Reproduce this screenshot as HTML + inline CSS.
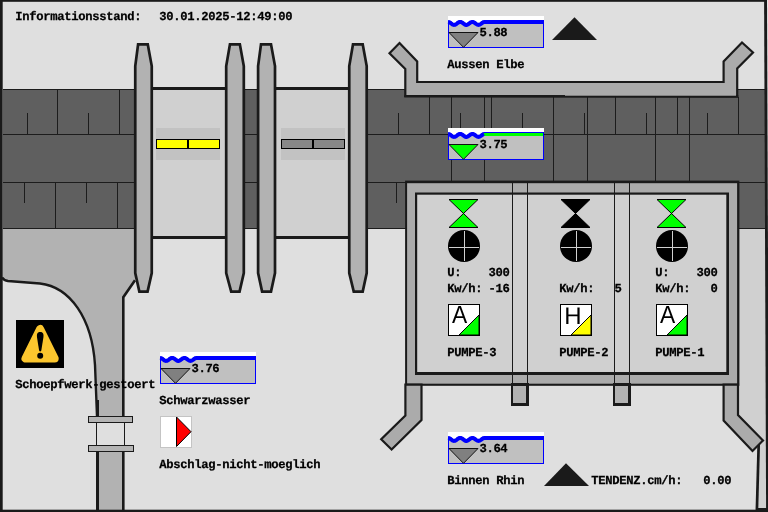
<!DOCTYPE html>
<html>
<head>
<meta charset="utf-8">
<title>Schoepfwerk</title>
<style>
html,body{margin:0;padding:0;background:#dfdfdf;}
body{width:768px;height:512px;overflow:hidden;position:relative;font-family:"Liberation Mono",monospace;}
svg{display:block;position:absolute;left:0;top:0;will-change:transform;}
text{stroke:#000;stroke-width:0.25px;font-family:"Liberation Mono",monospace;font-weight:bold;font-size:12.2px;letter-spacing:-0.32px;fill:#000;white-space:pre;text-rendering:geometricPrecision;}
text.s{stroke:none;font-family:"Liberation Sans",sans-serif;font-weight:normal;font-size:24px;}
</style>
</head>
<body>
<svg width="768" height="512" viewBox="0 0 768 512">

<rect x="0" y="0" width="768" height="512" fill="#dfdfdf"/>
<polygon points="738,228 766,228 766,511 757,511 759,446 738,420" fill="#d0d0d0"/>
<path d="M758.7,444 L756.9,510" stroke="#1a1a1a" stroke-width="2.7" fill="none"/>
<path d="M3,228 L135,228 L135,281 L123.5,297.2 L123.5,510 L97.5,510 L97,416 L95,365 C92,318 70,287 40,283.5 L8,281 Q4,280.5 3,278 Z" fill="#b2b2b2"/>
<path d="M2,277.5 Q4,280.5 8,281 L40,283.5 C70,287 92,318 95,365 L97,416" stroke="#1a1a1a" stroke-width="2.4" fill="none"/>
<path d="M97.5,400 L97.5,510" stroke="#1a1a1a" stroke-width="3" fill="none"/>
<path d="M135,280.2 L123.3,297.2 L123.3,510" stroke="#1a1a1a" stroke-width="2.6" fill="none"/>
<g shape-rendering="crispEdges">
<rect x="96" y="422" width="29" height="24" fill="#dfdfdf"/>
<rect x="96" y="422" width="1" height="24" fill="#1a1a1a"/>
<rect x="124" y="422" width="1" height="24" fill="#1a1a1a"/>
<rect x="88.5" y="416.5" width="44" height="6" fill="#b4b4b4" stroke="#1a1a1a" stroke-width="1"/>
<rect x="88.5" y="445.5" width="45" height="6" fill="#b4b4b4" stroke="#1a1a1a" stroke-width="1"/>
</g>
<g shape-rendering="crispEdges">
<rect x="3" y="89" width="763" height="139.5" fill="#5f5f5f"/>
<rect x="3" y="88.5" width="763" height="1" fill="#1c1c1c"/>
<rect x="3" y="134" width="763" height="1" fill="#1c1c1c"/>
<rect x="3" y="181.5" width="763" height="1" fill="#1c1c1c"/>
<rect x="3" y="228" width="763" height="1" fill="#1c1c1c"/>
<rect x="57" y="89" width="1" height="45" fill="#1c1c1c"/>
<rect x="119" y="89" width="1" height="45" fill="#1c1c1c"/>
<rect x="27" y="113" width="1" height="21" fill="#1c1c1c"/>
<rect x="88" y="113" width="1" height="21" fill="#1c1c1c"/>
<rect x="55" y="182" width="1" height="46" fill="#1c1c1c"/>
<rect x="117" y="182" width="1" height="46" fill="#1c1c1c"/>
<rect x="24" y="182" width="1" height="21" fill="#1c1c1c"/>
<rect x="86" y="182" width="1" height="21" fill="#1c1c1c"/>
<rect x="429" y="97" width="1" height="37" fill="#1c1c1c"/>
<rect x="451" y="97" width="1" height="37" fill="#1c1c1c"/>
<rect x="484" y="97" width="1" height="37" fill="#1c1c1c"/>
<rect x="491" y="97" width="1" height="37" fill="#1c1c1c"/>
<rect x="553" y="97" width="1" height="37" fill="#1c1c1c"/>
<rect x="587" y="97" width="1" height="37" fill="#1c1c1c"/>
<rect x="615" y="97" width="1" height="37" fill="#1c1c1c"/>
<rect x="655" y="97" width="1" height="37" fill="#1c1c1c"/>
<rect x="677" y="97" width="1" height="37" fill="#1c1c1c"/>
<rect x="689" y="97" width="1" height="37" fill="#1c1c1c"/>
<rect x="738" y="97" width="1" height="37" fill="#1c1c1c"/>
<rect x="398" y="113" width="1" height="21" fill="#1c1c1c"/>
<rect x="460" y="113" width="1" height="21" fill="#1c1c1c"/>
<rect x="522" y="113" width="1" height="21" fill="#1c1c1c"/>
<rect x="584" y="113" width="1" height="21" fill="#1c1c1c"/>
<rect x="646" y="113" width="1" height="21" fill="#1c1c1c"/>
<rect x="707" y="113" width="1" height="21" fill="#1c1c1c"/>
<rect x="451" y="134" width="1" height="48" fill="#1c1c1c"/>
<rect x="484" y="134" width="1" height="48" fill="#1c1c1c"/>
<rect x="553" y="134" width="1" height="48" fill="#1c1c1c"/>
<rect x="587" y="134" width="1" height="48" fill="#1c1c1c"/>
<rect x="655" y="134" width="1" height="48" fill="#1c1c1c"/>
<rect x="689" y="134" width="1" height="48" fill="#1c1c1c"/>
<rect x="396" y="182" width="1" height="21" fill="#1c1c1c"/>
</g>
<rect x="152" y="88.3" width="74" height="149" fill="#d0d0d0" stroke="#1a1a1a" stroke-width="2.6" shape-rendering="crispEdges"/>
<rect x="275" y="88.3" width="74" height="149" fill="#d0d0d0" stroke="#1a1a1a" stroke-width="2.6" shape-rendering="crispEdges"/>
<g shape-rendering="crispEdges">
<rect x="156" y="128" width="64" height="32" fill="#c2c2c2"/>
<rect x="156.5" y="139.5" width="63" height="9" fill="#ffff00" stroke="#000" stroke-width="1"/>
<rect x="187" y="139" width="2" height="10" fill="#000"/>
</g>
<g shape-rendering="crispEdges">
<rect x="281" y="128" width="64" height="32" fill="#c2c2c2"/>
<rect x="281.5" y="139.5" width="63" height="9" fill="#888888" stroke="#000" stroke-width="1"/>
<rect x="312" y="139" width="2" height="10" fill="#000"/>
</g>
<polygon points="138.1,44.3 147.75,44.3 151.75,66 151.75,273 147.55,291.6 139.35,291.6 135.25,273 135.25,66" fill="#b2b2b2" stroke="#1a1a1a" stroke-width="2.7" stroke-linejoin="miter"/>
<polygon points="229.95,44.3 239.85,44.3 243.8,66 243.8,273 239.55,291.6 231.2,291.6 226.2,273 226.2,66" fill="#b2b2b2" stroke="#1a1a1a" stroke-width="2.7" stroke-linejoin="miter"/>
<polygon points="261,44.3 271,44.3 275,66 275,273 271,291.6 262.1,291.6 258.1,273 258.1,66" fill="#b2b2b2" stroke="#1a1a1a" stroke-width="2.7" stroke-linejoin="miter"/>
<polygon points="353,44.3 362.7,44.3 366.7,66 366.7,273 362.7,291.6 353.75,291.6 349.25,273 349.25,66" fill="#b2b2b2" stroke="#1a1a1a" stroke-width="2.7" stroke-linejoin="miter"/>
<polygon points="399.5,43 417.2,61.5 417.2,82 723.6,82 723.6,61.5 742,42.5 753,52.5 737.2,68.5 737.2,96.6 405.3,96 405.3,69 389.5,53.2" fill="#ababab" stroke="#1a1a1a" stroke-width="2.2" stroke-linejoin="miter"/>
<path d="M404.2,96.4 L738.3,96.4" stroke="#1a1a1a" stroke-width="2.2"/>
<rect x="565" y="94.5" width="171" height="1.2" fill="#ababab"/>
<g shape-rendering="crispEdges">
</g><g>
<rect x="405.1" y="180.6" width="334.3" height="205.2" fill="#1a1a1a"/>
<rect x="407.1" y="183.2" width="330" height="200.5" fill="#ababab"/>
<rect x="415" y="192.5" width="314" height="182.5" fill="#1a1a1a"/>
<rect x="417.2" y="194.7" width="309.1" height="177.3" fill="#d0d0d0"/>
</g><g shape-rendering="crispEdges">
<rect x="512" y="183" width="1" height="201" fill="#1a1a1a"/>
<rect x="527" y="183" width="1" height="201" fill="#1a1a1a"/>
<rect x="614" y="183" width="1" height="201" fill="#1a1a1a"/>
<rect x="629" y="183" width="1" height="201" fill="#1a1a1a"/>
<rect x="512" y="384.5" width="15.5" height="20" fill="#b2b2b2" stroke="#1a1a1a" stroke-width="2.4"/>
<rect x="614" y="384.5" width="15.5" height="20" fill="#b2b2b2" stroke="#1a1a1a" stroke-width="2.4"/>
</g>
<polygon points="405.4,384.7 421.5,384.7 421.5,420 391.6,449.5 381.2,439.3 405.4,415.6" fill="#ababab" stroke="#1a1a1a" stroke-width="2.2" stroke-linejoin="miter"/>
<polygon points="723.6,384.7 738,384.7 738,415 763,440.5 752.5,451 723.6,420.5" fill="#ababab" stroke="#1a1a1a" stroke-width="2.2" stroke-linejoin="miter"/>
<polygon points="449,199.5 478,199.5 449,227.5 478,227.5" fill="#00ff00" stroke="#000" stroke-width="1"/>
<circle cx="464" cy="246" r="16" fill="#000"/>
<g shape-rendering="crispEdges"><rect x="464" y="231" width="1" height="30" fill="#d0d0d0"/><rect x="449" y="247" width="30" height="1" fill="#d0d0d0"/></g>
<polygon points="561,199.5 590,199.5 561,227.5 590,227.5" fill="#000000" stroke="#000" stroke-width="1"/>
<circle cx="576" cy="246" r="16" fill="#000"/>
<g shape-rendering="crispEdges"><rect x="576" y="231" width="1" height="30" fill="#d0d0d0"/><rect x="561" y="247" width="30" height="1" fill="#d0d0d0"/></g>
<polygon points="657,199.5 686,199.5 657,227.5 686,227.5" fill="#00ff00" stroke="#000" stroke-width="1"/>
<circle cx="672" cy="246" r="16" fill="#000"/>
<g shape-rendering="crispEdges"><rect x="672" y="231" width="1" height="30" fill="#d0d0d0"/><rect x="657" y="247" width="30" height="1" fill="#d0d0d0"/></g>
<g>
<rect x="448.5" y="304.5" width="31" height="31" fill="#fff" stroke="#000" stroke-width="1" shape-rendering="crispEdges"/>
<polygon points="479,315 479,335 459,335" fill="#00ff00" stroke="#000" stroke-width="1"/>
<rect x="448.5" y="304.5" width="31" height="31" fill="none" stroke="#000" stroke-width="1" shape-rendering="crispEdges"/>
<text class="s" transform="translate(452,323) scale(0.95,1.03)" x="0" y="0">A</text>
</g>
<g>
<rect x="560.5" y="304.5" width="31" height="31" fill="#fff" stroke="#000" stroke-width="1" shape-rendering="crispEdges"/>
<polygon points="591,315 591,335 571,335" fill="#ffff00" stroke="#000" stroke-width="1"/>
<rect x="560.5" y="304.5" width="31" height="31" fill="none" stroke="#000" stroke-width="1" shape-rendering="crispEdges"/>
<text class="s" x="564.2" y="324">H</text>
</g>
<g>
<rect x="656.5" y="304.5" width="31" height="31" fill="#fff" stroke="#000" stroke-width="1" shape-rendering="crispEdges"/>
<polygon points="687,315 687,335 667,335" fill="#00ff00" stroke="#000" stroke-width="1"/>
<rect x="656.5" y="304.5" width="31" height="31" fill="none" stroke="#000" stroke-width="1" shape-rendering="crispEdges"/>
<text class="s" transform="translate(660,323) scale(0.95,1.03)" x="0" y="0">A</text>
</g>
<text x="447.3" y="276">U:</text>
<text x="488.5" y="276">300</text>
<text x="447.3" y="292">Kw/h:</text>
<text x="488.5" y="292">-16</text>
<text x="447.3" y="356">PUMPE-3</text>
<text x="559.3" y="292">Kw/h:</text>
<text x="614.5" y="292">5</text>
<text x="559.3" y="356">PUMPE-2</text>
<text x="655.3" y="276">U:</text>
<text x="696.5" y="276">300</text>
<text x="655.3" y="292">Kw/h:</text>
<text x="710.5" y="292">0</text>
<text x="655.3" y="356">PUMPE-1</text>
<g transform="translate(448,16)">
<rect x="0" y="0" width="96" height="32" fill="#fff" shape-rendering="crispEdges"/>
<rect x="0.5" y="5" width="95" height="26.5" fill="#c0c0c0" stroke="#0000ff" stroke-width="1" shape-rendering="crispEdges"/>
<rect x="0" y="0" width="96" height="4" fill="#fff" shape-rendering="crispEdges"/>
<rect x="33" y="4" width="63" height="4" fill="#0000ff" shape-rendering="crispEdges"/>
<path d="M0,0 L0.00,3.90 L0.50,3.95 L1.00,4.09 L1.50,4.33 L2.00,4.63 L2.50,4.98 L3.00,5.36 L3.50,5.74 L4.00,6.10 L4.50,6.42 L5.00,6.67 L5.50,6.83 L6.00,6.90 L6.50,6.87 L7.00,6.74 L7.50,6.53 L8.00,6.24 L8.50,5.89 L9.00,5.52 L9.50,5.13 L10.00,4.76 L10.50,4.44 L11.00,4.18 L11.50,4.00 L12.00,3.91 L12.50,3.92 L13.00,4.03 L13.50,4.22 L14.00,4.50 L14.50,4.83 L15.00,5.21 L15.50,5.59 L16.00,5.97 L16.50,6.30 L17.00,6.58 L17.50,6.77 L18.00,6.88 L18.50,6.89 L19.00,6.80 L19.50,6.62 L20.00,6.36 L20.50,6.04 L21.00,5.67 L21.50,5.28 L22.00,4.91 L22.50,4.56 L23.00,4.27 L23.50,4.06 L24.00,3.93 L24.50,3.90 L25.00,3.97 L25.50,4.13 L26.00,4.38 L26.50,4.70 L27.00,5.06 L27.50,5.44 L28.00,5.82 L28.50,6.17 L29.00,6.47 L29.50,6.71 L30.00,6.85 L30.50,6.90 L31.00,6.85 L31.50,6.71 L32.00,6.47 L32.50,6.17 L33.00,5.82 L33.50,5.44 L34.00,5.06 L34.50,4.70 L35.00,4.38 L35.50,4.13 L36.00,3.97 L36,0 Z" fill="#fff"/>
<path d="M0.00,5.90 L0.50,5.95 L1.00,6.09 L1.50,6.33 L2.00,6.63 L2.50,6.98 L3.00,7.36 L3.50,7.74 L4.00,8.10 L4.50,8.42 L5.00,8.67 L5.50,8.83 L6.00,8.90 L6.50,8.87 L7.00,8.74 L7.50,8.53 L8.00,8.24 L8.50,7.89 L9.00,7.52 L9.50,7.13 L10.00,6.76 L10.50,6.44 L11.00,6.18 L11.50,6.00 L12.00,5.91 L12.50,5.92 L13.00,6.03 L13.50,6.22 L14.00,6.50 L14.50,6.83 L15.00,7.21 L15.50,7.59 L16.00,7.97 L16.50,8.30 L17.00,8.58 L17.50,8.77 L18.00,8.88 L18.50,8.89 L19.00,8.80 L19.50,8.62 L20.00,8.36 L20.50,8.04 L21.00,7.67 L21.50,7.28 L22.00,6.91 L22.50,6.56 L23.00,6.27 L23.50,6.06 L24.00,5.93 L24.50,5.90 L25.00,5.97 L25.50,6.13 L26.00,6.38 L26.50,6.70 L27.00,7.06 L27.50,7.44 L28.00,7.82 L28.50,8.17 L29.00,8.47 L29.50,8.71 L30.00,8.85 L30.50,8.90 L31.00,8.85 L31.50,8.71 L32.00,8.47 L32.50,8.17 L33.00,7.82 L33.50,7.44 L34.00,7.06 L34.50,6.70 L35.00,6.38 L35.50,6.13 L36.00,5.97" fill="none" stroke="#0000ff" stroke-width="4"/>
<rect x="0" y="0" width="96" height="4" fill="#fff" shape-rendering="crispEdges"/>
<polygon points="1,16.5 30,16.5 15.5,31.3" fill="#808080" stroke="#111" stroke-width="1"/>
<text x="31.4" y="20.2">5.88</text>
</g>
<g transform="translate(448,128)">
<rect x="0" y="0" width="96" height="32" fill="#fff" shape-rendering="crispEdges"/>
<rect x="0.5" y="5" width="95" height="26.5" fill="#c0c0c0" stroke="#0000ff" stroke-width="1" shape-rendering="crispEdges"/>
<rect x="0" y="0" width="96" height="4" fill="#fff" shape-rendering="crispEdges"/>
<rect x="33" y="4" width="63" height="4" fill="#0000ff" shape-rendering="crispEdges"/>
<rect x="35" y="4.6" width="60" height="3.4" fill="#00ff00" shape-rendering="crispEdges"/>
<path d="M0,0 L0.00,3.90 L0.50,3.95 L1.00,4.09 L1.50,4.33 L2.00,4.63 L2.50,4.98 L3.00,5.36 L3.50,5.74 L4.00,6.10 L4.50,6.42 L5.00,6.67 L5.50,6.83 L6.00,6.90 L6.50,6.87 L7.00,6.74 L7.50,6.53 L8.00,6.24 L8.50,5.89 L9.00,5.52 L9.50,5.13 L10.00,4.76 L10.50,4.44 L11.00,4.18 L11.50,4.00 L12.00,3.91 L12.50,3.92 L13.00,4.03 L13.50,4.22 L14.00,4.50 L14.50,4.83 L15.00,5.21 L15.50,5.59 L16.00,5.97 L16.50,6.30 L17.00,6.58 L17.50,6.77 L18.00,6.88 L18.50,6.89 L19.00,6.80 L19.50,6.62 L20.00,6.36 L20.50,6.04 L21.00,5.67 L21.50,5.28 L22.00,4.91 L22.50,4.56 L23.00,4.27 L23.50,4.06 L24.00,3.93 L24.50,3.90 L25.00,3.97 L25.50,4.13 L26.00,4.38 L26.50,4.70 L27.00,5.06 L27.50,5.44 L28.00,5.82 L28.50,6.17 L29.00,6.47 L29.50,6.71 L30.00,6.85 L30.50,6.90 L31.00,6.85 L31.50,6.71 L32.00,6.47 L32.50,6.17 L33.00,5.82 L33.50,5.44 L34.00,5.06 L34.50,4.70 L35.00,4.38 L35.50,4.13 L36.00,3.97 L36,0 Z" fill="#fff"/>
<path d="M0.00,5.90 L0.50,5.95 L1.00,6.09 L1.50,6.33 L2.00,6.63 L2.50,6.98 L3.00,7.36 L3.50,7.74 L4.00,8.10 L4.50,8.42 L5.00,8.67 L5.50,8.83 L6.00,8.90 L6.50,8.87 L7.00,8.74 L7.50,8.53 L8.00,8.24 L8.50,7.89 L9.00,7.52 L9.50,7.13 L10.00,6.76 L10.50,6.44 L11.00,6.18 L11.50,6.00 L12.00,5.91 L12.50,5.92 L13.00,6.03 L13.50,6.22 L14.00,6.50 L14.50,6.83 L15.00,7.21 L15.50,7.59 L16.00,7.97 L16.50,8.30 L17.00,8.58 L17.50,8.77 L18.00,8.88 L18.50,8.89 L19.00,8.80 L19.50,8.62 L20.00,8.36 L20.50,8.04 L21.00,7.67 L21.50,7.28 L22.00,6.91 L22.50,6.56 L23.00,6.27 L23.50,6.06 L24.00,5.93 L24.50,5.90 L25.00,5.97 L25.50,6.13 L26.00,6.38 L26.50,6.70 L27.00,7.06 L27.50,7.44 L28.00,7.82 L28.50,8.17 L29.00,8.47 L29.50,8.71 L30.00,8.85 L30.50,8.90 L31.00,8.85 L31.50,8.71 L32.00,8.47 L32.50,8.17 L33.00,7.82 L33.50,7.44 L34.00,7.06 L34.50,6.70 L35.00,6.38 L35.50,6.13 L36.00,5.97" fill="none" stroke="#0000ff" stroke-width="4"/>
<rect x="0" y="0" width="96" height="4" fill="#fff" shape-rendering="crispEdges"/>
<polygon points="1,16.5 30,16.5 15.5,31.3" fill="#00ff00" stroke="#111" stroke-width="1"/>
<text x="31.4" y="20.2">3.75</text>
</g>
<g transform="translate(448,432)">
<rect x="0" y="0" width="96" height="32" fill="#fff" shape-rendering="crispEdges"/>
<rect x="0.5" y="5" width="95" height="26.5" fill="#c0c0c0" stroke="#0000ff" stroke-width="1" shape-rendering="crispEdges"/>
<rect x="0" y="0" width="96" height="4" fill="#fff" shape-rendering="crispEdges"/>
<rect x="33" y="4" width="63" height="4" fill="#0000ff" shape-rendering="crispEdges"/>
<path d="M0,0 L0.00,3.90 L0.50,3.95 L1.00,4.09 L1.50,4.33 L2.00,4.63 L2.50,4.98 L3.00,5.36 L3.50,5.74 L4.00,6.10 L4.50,6.42 L5.00,6.67 L5.50,6.83 L6.00,6.90 L6.50,6.87 L7.00,6.74 L7.50,6.53 L8.00,6.24 L8.50,5.89 L9.00,5.52 L9.50,5.13 L10.00,4.76 L10.50,4.44 L11.00,4.18 L11.50,4.00 L12.00,3.91 L12.50,3.92 L13.00,4.03 L13.50,4.22 L14.00,4.50 L14.50,4.83 L15.00,5.21 L15.50,5.59 L16.00,5.97 L16.50,6.30 L17.00,6.58 L17.50,6.77 L18.00,6.88 L18.50,6.89 L19.00,6.80 L19.50,6.62 L20.00,6.36 L20.50,6.04 L21.00,5.67 L21.50,5.28 L22.00,4.91 L22.50,4.56 L23.00,4.27 L23.50,4.06 L24.00,3.93 L24.50,3.90 L25.00,3.97 L25.50,4.13 L26.00,4.38 L26.50,4.70 L27.00,5.06 L27.50,5.44 L28.00,5.82 L28.50,6.17 L29.00,6.47 L29.50,6.71 L30.00,6.85 L30.50,6.90 L31.00,6.85 L31.50,6.71 L32.00,6.47 L32.50,6.17 L33.00,5.82 L33.50,5.44 L34.00,5.06 L34.50,4.70 L35.00,4.38 L35.50,4.13 L36.00,3.97 L36,0 Z" fill="#fff"/>
<path d="M0.00,5.90 L0.50,5.95 L1.00,6.09 L1.50,6.33 L2.00,6.63 L2.50,6.98 L3.00,7.36 L3.50,7.74 L4.00,8.10 L4.50,8.42 L5.00,8.67 L5.50,8.83 L6.00,8.90 L6.50,8.87 L7.00,8.74 L7.50,8.53 L8.00,8.24 L8.50,7.89 L9.00,7.52 L9.50,7.13 L10.00,6.76 L10.50,6.44 L11.00,6.18 L11.50,6.00 L12.00,5.91 L12.50,5.92 L13.00,6.03 L13.50,6.22 L14.00,6.50 L14.50,6.83 L15.00,7.21 L15.50,7.59 L16.00,7.97 L16.50,8.30 L17.00,8.58 L17.50,8.77 L18.00,8.88 L18.50,8.89 L19.00,8.80 L19.50,8.62 L20.00,8.36 L20.50,8.04 L21.00,7.67 L21.50,7.28 L22.00,6.91 L22.50,6.56 L23.00,6.27 L23.50,6.06 L24.00,5.93 L24.50,5.90 L25.00,5.97 L25.50,6.13 L26.00,6.38 L26.50,6.70 L27.00,7.06 L27.50,7.44 L28.00,7.82 L28.50,8.17 L29.00,8.47 L29.50,8.71 L30.00,8.85 L30.50,8.90 L31.00,8.85 L31.50,8.71 L32.00,8.47 L32.50,8.17 L33.00,7.82 L33.50,7.44 L34.00,7.06 L34.50,6.70 L35.00,6.38 L35.50,6.13 L36.00,5.97" fill="none" stroke="#0000ff" stroke-width="4"/>
<rect x="0" y="0" width="96" height="4" fill="#fff" shape-rendering="crispEdges"/>
<polygon points="1,16.5 30,16.5 15.5,31.3" fill="#808080" stroke="#111" stroke-width="1"/>
<text x="31.4" y="20.2">3.64</text>
</g>
<g transform="translate(160,352)">
<rect x="0" y="0" width="96" height="32" fill="#fff" shape-rendering="crispEdges"/>
<rect x="0.5" y="5" width="95" height="26.5" fill="#c0c0c0" stroke="#0000ff" stroke-width="1" shape-rendering="crispEdges"/>
<rect x="0" y="0" width="96" height="4" fill="#fff" shape-rendering="crispEdges"/>
<rect x="33" y="4" width="63" height="4" fill="#0000ff" shape-rendering="crispEdges"/>
<path d="M0,0 L0.00,3.90 L0.50,3.95 L1.00,4.09 L1.50,4.33 L2.00,4.63 L2.50,4.98 L3.00,5.36 L3.50,5.74 L4.00,6.10 L4.50,6.42 L5.00,6.67 L5.50,6.83 L6.00,6.90 L6.50,6.87 L7.00,6.74 L7.50,6.53 L8.00,6.24 L8.50,5.89 L9.00,5.52 L9.50,5.13 L10.00,4.76 L10.50,4.44 L11.00,4.18 L11.50,4.00 L12.00,3.91 L12.50,3.92 L13.00,4.03 L13.50,4.22 L14.00,4.50 L14.50,4.83 L15.00,5.21 L15.50,5.59 L16.00,5.97 L16.50,6.30 L17.00,6.58 L17.50,6.77 L18.00,6.88 L18.50,6.89 L19.00,6.80 L19.50,6.62 L20.00,6.36 L20.50,6.04 L21.00,5.67 L21.50,5.28 L22.00,4.91 L22.50,4.56 L23.00,4.27 L23.50,4.06 L24.00,3.93 L24.50,3.90 L25.00,3.97 L25.50,4.13 L26.00,4.38 L26.50,4.70 L27.00,5.06 L27.50,5.44 L28.00,5.82 L28.50,6.17 L29.00,6.47 L29.50,6.71 L30.00,6.85 L30.50,6.90 L31.00,6.85 L31.50,6.71 L32.00,6.47 L32.50,6.17 L33.00,5.82 L33.50,5.44 L34.00,5.06 L34.50,4.70 L35.00,4.38 L35.50,4.13 L36.00,3.97 L36,0 Z" fill="#fff"/>
<path d="M0.00,5.90 L0.50,5.95 L1.00,6.09 L1.50,6.33 L2.00,6.63 L2.50,6.98 L3.00,7.36 L3.50,7.74 L4.00,8.10 L4.50,8.42 L5.00,8.67 L5.50,8.83 L6.00,8.90 L6.50,8.87 L7.00,8.74 L7.50,8.53 L8.00,8.24 L8.50,7.89 L9.00,7.52 L9.50,7.13 L10.00,6.76 L10.50,6.44 L11.00,6.18 L11.50,6.00 L12.00,5.91 L12.50,5.92 L13.00,6.03 L13.50,6.22 L14.00,6.50 L14.50,6.83 L15.00,7.21 L15.50,7.59 L16.00,7.97 L16.50,8.30 L17.00,8.58 L17.50,8.77 L18.00,8.88 L18.50,8.89 L19.00,8.80 L19.50,8.62 L20.00,8.36 L20.50,8.04 L21.00,7.67 L21.50,7.28 L22.00,6.91 L22.50,6.56 L23.00,6.27 L23.50,6.06 L24.00,5.93 L24.50,5.90 L25.00,5.97 L25.50,6.13 L26.00,6.38 L26.50,6.70 L27.00,7.06 L27.50,7.44 L28.00,7.82 L28.50,8.17 L29.00,8.47 L29.50,8.71 L30.00,8.85 L30.50,8.90 L31.00,8.85 L31.50,8.71 L32.00,8.47 L32.50,8.17 L33.00,7.82 L33.50,7.44 L34.00,7.06 L34.50,6.70 L35.00,6.38 L35.50,6.13 L36.00,5.97" fill="none" stroke="#0000ff" stroke-width="4"/>
<rect x="0" y="0" width="96" height="4" fill="#fff" shape-rendering="crispEdges"/>
<polygon points="1,16.5 30,16.5 15.5,31.3" fill="#808080" stroke="#111" stroke-width="1"/>
<text x="31.4" y="20.2">3.76</text>
</g>
<polygon points="552,40 597,40 574.5,17.3" fill="#1a1a1a"/>
<polygon points="544,486 589,486 566,463.3" fill="#1a1a1a"/>
<text x="15.3" y="20">Informationsstand:</text>
<text x="159.3" y="20">30.01.2025-12:49:00</text>
<text x="447.3" y="68">Aussen Elbe</text>
<text x="447.3" y="484">Binnen Rhin</text>
<text x="591.3" y="484">TENDENZ.cm/h:</text>
<text x="703.3" y="484">0.00</text>
<text x="159.3" y="404">Schwarzwasser</text>
<text x="159.3" y="468">Abschlag-nicht-moeglich</text>
<text x="15.3" y="388">Schoepfwerk-gestoert</text>
<rect x="16" y="320" width="48" height="48" fill="#000" shape-rendering="crispEdges"/>
<path d="M40.1,329 L25.5,358.6 L54.7,358.6 Z" fill="#fcc62e" stroke="#fcc62e" stroke-width="8" stroke-linejoin="round"/>
<path d="M40.2,332 C43.5,332 43.8,334.5 43.3,338 L41.3,350.5 Q40.2,352.5 39.1,350.5 L37.1,338 C36.6,334.5 36.9,332 40.2,332 Z" fill="#000"/>
<circle cx="40.2" cy="355.7" r="3" fill="#000"/>
<rect x="160.5" y="416.5" width="31" height="31" fill="#fff" stroke="#c4c4c4" stroke-width="1" shape-rendering="crispEdges"/>
<polygon points="176.5,417 176.5,446.5 191,431.7" fill="#ff0000" stroke="#000" stroke-width="1"/>
<g>
<rect x="0" y="0" width="768" height="1.8" fill="#1a1a1a"/>
<rect x="0" y="0" width="2.7" height="512" fill="#1a1a1a"/>
<rect x="0" y="509.7" width="768" height="2.3" fill="#1a1a1a"/>
<rect x="757" y="508" width="11" height="4" fill="#1a1a1a"/>
<polygon points="767,0 768,0 768,300 767,200" fill="#e8e8e8"/>
<polygon points="764.1,0 767,0 769,512 766.1,512" fill="#1a1a1a"/>
</g>
</svg>
</body>
</html>
